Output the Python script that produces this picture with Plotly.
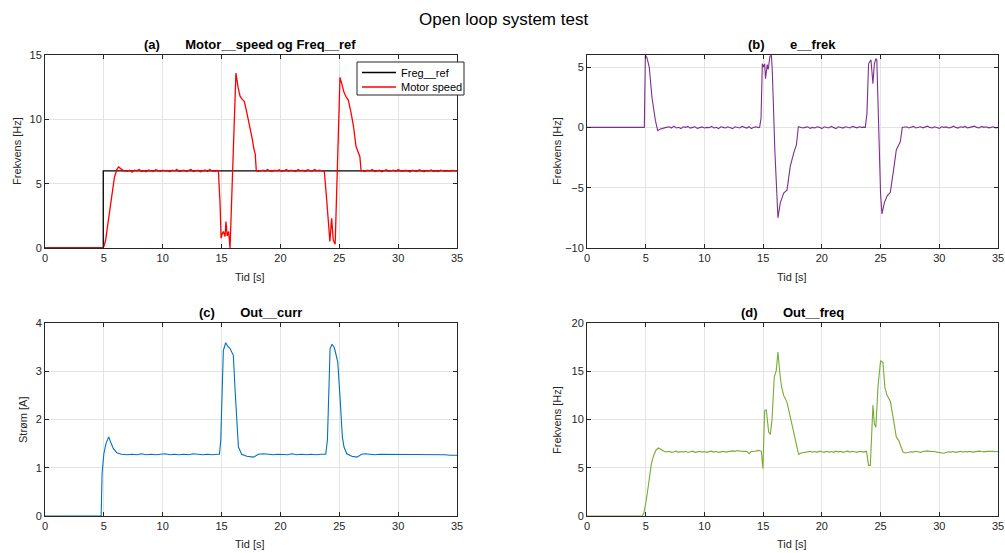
import plotly.graph_objects as go

# ---------------- data ----------------
# (a) Freq ref
t_ref = [0, 4.95, 4.95, 35]
freq_ref = [0, 0, 6, 6]

# (a) Motor speed
t_speed = [0, 4.85, 5.0, 5.15, 5.3, 5.5, 5.7, 5.9, 6.1, 6.25, 6.45, 6.7,
           7.0, 7.2, 7.4, 7.6, 7.8, 8.0, 8.2, 8.4, 8.6, 8.8, 9.0, 9.2, 9.4, 9.6, 9.8,
           10.0, 10.2, 10.4, 10.6, 10.8, 11.0, 11.2, 11.4, 11.6, 11.8, 12.0, 12.2, 12.4,
           12.6, 12.8, 13.0, 13.2, 13.4, 13.6, 13.8, 14.0, 14.2, 14.4, 14.6,
           14.73, 14.87, 14.96, 15.05, 15.15, 15.3, 15.37, 15.48, 15.6, 15.72, 15.85,
           16.05, 16.22, 16.4, 16.57, 16.75, 16.93, 17.15, 17.4, 17.6, 17.76, 17.86, 17.95,
           18.1, 18.3, 18.5, 18.7, 18.9, 19.1, 19.3, 19.5, 19.7, 19.9, 20.1, 20.3, 20.5,
           20.7, 20.9, 21.1, 21.3, 21.5, 21.7, 21.9, 22.1, 22.3, 22.5, 22.7, 22.9, 23.1,
           23.3, 23.5,
           23.73, 23.93, 24.07, 24.2, 24.35, 24.49, 24.65, 24.8, 24.93, 25.06, 25.2, 25.4,
           25.6, 25.77, 26.0, 26.2, 26.42, 26.6, 26.75, 26.85,
           27.0, 27.2, 27.4, 27.6, 27.8, 28.0, 28.2, 28.4, 28.6, 28.8, 29.0, 29.2, 29.4,
           29.6, 29.8, 30.0, 30.2, 30.4, 30.6, 30.8, 31.0, 31.2, 31.4, 31.6, 31.8, 32.0,
           32.2, 32.4, 32.6, 32.8, 33.0, 33.2, 33.4, 33.6, 33.8, 34.0, 34.2, 34.4, 34.6,
           34.8, 35.0]
motor_speed = [0, 0, 0.1, 0.6, 1.6, 3.0, 4.4, 5.5, 6.1, 6.3, 6.15, 6.0,
               5.95, 6.05, 5.9, 6.05, 6.0, 6.1, 5.95, 6.0, 5.92, 6.06, 6.0, 5.95, 6.08, 6.0, 5.96,
               6.05, 6.0, 6.02, 5.92, 6.05, 6.0, 6.1, 5.95, 6.0, 6.05, 5.95, 6.0, 6.1,
               5.95, 6.0, 6.05, 5.92, 6.0, 6.06, 5.95, 6.1, 6.0, 5.95, 6.02,
               6.0, 3.5, 0.76, 1.1, 1.28, 0.9, 2.06, 0.94, 1.28, 0.0, 3.8,
               9.0, 13.6, 12.5, 11.8, 11.55, 11.4, 10.5, 9.5, 8.5, 7.65, 7.3, 6.0,
               5.95, 6.0, 6.05, 5.97, 6.1, 6.0, 5.95, 6.05, 6.0, 6.08, 5.95, 6.0, 6.1,
               5.96, 6.05, 6.0, 5.95, 6.1, 6.0, 6.05, 5.94, 6.08, 6.0, 5.96, 6.1, 6.0,
               6.05, 6.0,
               5.95, 3.75, 1.67, 0.5, 2.3, 0.6, 0.3, 5.0, 9.5, 13.26, 12.8, 12.1,
               11.7, 11.5, 10.5, 9.5, 7.9, 7.4, 7.1, 6.0,
               6.0, 5.95, 6.05, 6.0, 6.1, 5.95, 6.0, 6.05, 5.92, 6.0, 6.08, 5.96, 6.0,
               6.05, 5.95, 6.1, 6.0, 5.96, 6.04, 6.0, 5.9, 6.05, 6.0, 5.95, 6.08, 6.0,
               5.92, 6.02, 6.0, 6.06, 5.95, 6.0, 5.94, 6.05, 6.0, 5.95, 6.02, 5.98, 6.04,
               6.0, 6.0]

# (b) e__frek
t_err = [0, 4.88, 4.97, 5.1, 5.3, 5.53, 5.82, 6.02, 6.25, 6.5, 6.75,
         7.0, 7.2, 7.4, 7.6, 7.8, 8.0, 8.2, 8.4, 8.6, 8.8, 9.0, 9.2, 9.4, 9.6, 9.8,
         10.0, 10.2, 10.4, 10.6, 10.8, 11.0, 11.2, 11.4, 11.6, 11.8, 12.0, 12.2, 12.4,
         12.6, 12.8, 13.0, 13.2, 13.4, 13.6, 13.8, 14.0, 14.2, 14.4, 14.6,
         14.7, 14.82, 14.93, 15.04, 15.13, 15.2, 15.35, 15.43, 15.5, 15.58, 15.7, 15.78,
         16.0, 16.26, 16.46, 16.75, 17.03, 17.31, 17.6, 17.83, 18.0,
         18.2, 18.4, 18.6, 18.8, 19.0, 19.2, 19.4, 19.6, 19.8, 20.0, 20.2, 20.4, 20.6,
         20.8, 21.0, 21.2, 21.4, 21.6, 21.8, 22.0, 22.2, 22.4, 22.6, 22.8, 23.0, 23.2,
         23.4, 23.6,
         23.7, 23.84, 23.98, 24.18, 24.35, 24.47, 24.6, 24.68, 25.0, 25.12, 25.32, 25.55,
         25.83, 26.11, 26.34, 26.54, 26.68, 26.85,
         27.0, 27.2, 27.4, 27.6, 27.8, 28.0, 28.2, 28.4, 28.6, 28.8, 29.0, 29.2, 29.4,
         29.6, 29.8, 30.0, 30.2, 30.4, 30.6, 30.8, 31.0, 31.2, 31.4, 31.6, 31.8, 32.0,
         32.2, 32.4, 32.6, 32.8, 33.0, 33.2, 33.4, 33.6, 33.8, 34.0, 34.2, 34.4, 34.6,
         34.8, 35.0]
e_frek = [0, 0, 5.98, 5.8, 5.0, 2.5, 0.6, -0.27, -0.14, -0.05, 0.0,
          0.05, -0.05, 0.1, -0.05, 0.0, -0.1, 0.05, 0.0, 0.08, -0.06, 0.0, 0.05, -0.08, 0.0, 0.04,
          -0.05, 0.0, -0.02, 0.08, -0.05, 0.0, -0.1, 0.05, 0.0, -0.05, 0.05, 0.0, -0.1,
          0.05, 0.0, -0.05, 0.08, 0.0, -0.06, 0.05, -0.1, 0.0, 0.05, -0.02,
          0.0, 0.74, 5.27, 5.0, 5.27, 4.04, 5.2, 4.8, 5.27, 5.9, 5.98, 4.7,
          -2.0, -7.5, -6.26, -5.44, -5.2, -3.24, -2.14, -1.46, 0.05,
          0.02, -0.05, 0.0, 0.05, -0.08, 0.0, -0.05, 0.05, 0.0, -0.1, 0.05, 0.0, -0.05,
          0.08, 0.0, -0.1, 0.05, 0.0, -0.06, 0.05, 0.0, -0.05, 0.08, 0.0, -0.04, 0.05,
          0.0, 0.02,
          0.0, 1.15, 5.27, 5.6, 3.63, 5.27, 5.7, 5.6, -5.5, -7.17, -6.26, -5.7,
          -5.38, -3.5, -1.87, -1.46, -1.2, 0.0,
          0.0, 0.05, -0.05, 0.0, 0.08, -0.05, 0.0, 0.05, -0.04, 0.0, 0.1, 0.0, -0.05,
          0.05, 0.0, -0.08, 0.05, 0.0, 0.04, -0.05, 0.0, 0.1, 0.0, -0.06, 0.05, 0.0,
          0.08, -0.04, 0.0, 0.05, 0.1, 0.0, -0.05, 0.08, 0.0, 0.05, -0.04, 0.0, 0.05,
          -0.05, 0.0]

# (c) Out__curr
t_curr = [0, 4.77, 4.85, 5.0, 5.18, 5.41, 5.58, 5.8, 6.1, 6.5,
          7.0, 7.4, 7.8, 8.2, 8.6, 9.0, 9.4, 9.8, 10.2, 10.6, 11.0, 11.4, 11.8, 12.2,
          12.6, 13.0, 13.4, 13.8, 14.2, 14.6,
          14.82, 14.93, 15.07, 15.15, 15.35, 15.52, 15.72, 15.89, 16.0, 16.15, 16.29,
          16.43, 16.71, 17.14, 17.7, 18.13, 18.55,
          19.0, 19.4, 19.8, 20.2, 20.6, 21.0, 21.4, 21.8, 22.2, 22.6, 23.0, 23.4,
          23.85, 23.99, 24.07, 24.22, 24.38, 24.56, 24.64, 24.87, 25.06, 25.26, 25.4,
          25.64, 26.06, 26.5, 26.9, 27.2,
          27.6, 28.0, 28.4, 28.8, 29.2, 29.6, 30.0, 30.4, 30.8, 31.2, 31.6, 32.0, 32.4,
          32.8, 33.2, 33.6, 34.0, 34.4, 34.8, 35.0]
out_curr = [0, 0, 0.88, 1.29, 1.5, 1.64, 1.53, 1.4, 1.31, 1.28,
            1.27, 1.28, 1.27, 1.29, 1.27, 1.28, 1.27, 1.28, 1.29, 1.27, 1.28, 1.27, 1.28, 1.27,
            1.29, 1.28, 1.27, 1.28, 1.27, 1.28,
            1.28, 1.57, 2.6, 3.43, 3.59, 3.52, 3.47, 3.4, 3.33, 2.6, 1.91,
            1.43, 1.28, 1.24, 1.22, 1.28, 1.29,
            1.28, 1.27, 1.28, 1.28, 1.27, 1.29, 1.27, 1.28, 1.27, 1.28, 1.27, 1.28,
            1.28, 1.57, 2.47, 3.47, 3.56, 3.5, 3.43, 3.19, 2.47, 1.64, 1.43,
            1.29, 1.24, 1.22, 1.28, 1.29,
            1.28, 1.27, 1.28, 1.28, 1.27, 1.28, 1.27, 1.28, 1.27, 1.27, 1.28, 1.27, 1.28,
            1.27, 1.27, 1.28, 1.27, 1.26, 1.27, 1.26]

# (d) Out__freq
t_ofreq = [0, 4.68, 4.83, 5.02, 5.25, 5.48, 5.68, 5.9, 6.1, 6.39, 6.67,
           7.0, 7.2, 7.4, 7.6, 7.8, 8.0, 8.2, 8.4, 8.6, 8.8, 9.0, 9.2, 9.4, 9.6, 9.8,
           10.0, 10.2, 10.4, 10.6, 10.8, 11.0, 11.2, 11.4, 11.6, 11.8, 12.0, 12.2, 12.4,
           12.6, 12.8, 13.0, 13.2, 13.4, 13.6, 13.8, 14.0, 14.2, 14.4, 14.6,
           14.85, 14.98, 15.13, 15.27, 15.47, 15.61, 15.75, 15.95, 16.12, 16.26, 16.4,
           16.55, 16.75, 17.03, 17.31, 17.6, 17.83, 18.02, 18.22, 18.5,
           18.8, 19.0, 19.2, 19.4, 19.6, 19.8, 20.0, 20.2, 20.4, 20.6, 20.8, 21.0, 21.2,
           21.4, 21.6, 21.8, 22.0, 22.2, 22.4, 22.6, 22.8, 23.0, 23.2, 23.4, 23.6, 23.8,
           23.98, 24.13, 24.27, 24.35, 24.47, 24.6, 24.78, 25.0, 25.2, 25.37, 25.55, 25.83,
           26.11, 26.34, 26.54, 26.74, 26.91, 27.1,
           27.4, 27.6, 27.8, 28.0, 28.2, 28.4, 28.6, 28.8, 29.0, 29.2, 29.4, 29.6, 29.8,
           30.0, 30.2, 30.4, 30.6, 30.8, 31.0, 31.2, 31.4, 31.6, 31.8, 32.0, 32.2, 32.4,
           32.6, 32.8, 33.0, 33.2, 33.4, 33.6, 33.8, 34.0, 34.2, 34.4, 34.6, 34.8, 35.0]
out_freq = [0, 0, 0.24, 1.45, 3.35, 5.4, 6.29, 6.87, 7.05, 6.8, 6.63,
            6.7, 6.6, 6.65, 6.72, 6.6, 6.68, 6.62, 6.7, 6.58, 6.66, 6.72, 6.6, 6.65, 6.7, 6.62,
            6.68, 6.6, 6.66, 6.72, 6.62, 6.68, 6.6, 6.65, 6.7, 6.62, 6.66, 6.7, 6.75,
            6.7, 6.78, 6.72, 6.7, 6.75, 6.7, 6.46, 6.7, 6.68, 6.75, 6.8,
            6.7, 4.9, 10.95, 11.0, 8.7, 8.46, 9.9, 14.4, 15.1, 17.0, 15.1,
            13.5, 12.5, 11.8, 10.26, 8.7, 7.67, 6.39, 6.53, 6.6,
            6.65, 6.7, 6.62, 6.68, 6.6, 6.72, 6.65, 6.6, 6.7, 6.62, 6.68, 6.6, 6.72,
            6.65, 6.7, 6.6, 6.66, 6.72, 6.62, 6.7, 6.65, 6.6, 6.7, 6.66, 6.62, 6.7,
            5.25, 5.25, 9.2, 11.5, 9.57, 9.2, 13.4, 16.1, 15.9, 13.3, 12.5, 11.9,
            9.9, 8.19, 7.84, 7.15, 6.63, 6.53,
            6.6, 6.66, 6.62, 6.7, 6.65, 6.6, 6.68, 6.72, 6.75, 6.7, 6.72, 6.68, 6.62,
            6.6, 6.55, 6.5, 6.6, 6.65, 6.62, 6.68, 6.6, 6.66, 6.7, 6.62, 6.68, 6.65,
            6.7, 6.62, 6.66, 6.7, 6.72, 6.68, 6.65, 6.7, 6.72, 6.68, 6.7, 6.66, 6.68]

legend_names = ["Freg__ref", "Motor speed"]

for a, b in [(t_ref, freq_ref), (t_speed, motor_speed), (t_err, e_frek),
             (t_curr, out_curr), (t_ofreq, out_freq)]:
    assert len(a) == len(b), (len(a), len(b))

# ---------------- layout geometry (screen pixels) ----------------
# body margin is removed by a small post script, so figure pixels = screen pixels
FW, FH = 1005, 553

LX = (45, 457)
RX = (587, 998)
TY = (55, 248)
BY = (323, 516)


def px(s):
    return s / FW


def py(s):
    return 1 - s / FH


def xd(p):
    return [px(p[0]), px(p[1])]


def yd(p):
    return [py(p[1]), py(p[0])]


AX = "#262626"
GRID = "#e3e3e3"
FONT = "Liberation Sans, Arial, Helvetica, sans-serif"
RED = "#ff0000"

fig = go.Figure()
fig.add_trace(go.Scatter(x=t_ref, y=freq_ref, mode="lines", name=legend_names[0],
                         line=dict(color="#000000", width=1.3), xaxis="x", yaxis="y"))
fig.add_trace(go.Scatter(x=t_speed, y=motor_speed, mode="lines", name=legend_names[1],
                         line=dict(color=RED, width=1.3), xaxis="x", yaxis="y"))
fig.add_trace(go.Scatter(x=t_err, y=e_frek, mode="lines", name="e__frek",
                         line=dict(color="#7e2f8e", width=1.1), xaxis="x2", yaxis="y2"))
fig.add_trace(go.Scatter(x=t_curr, y=out_curr, mode="lines", name="Out__curr",
                         line=dict(color="#0072bd", width=1.1), xaxis="x3", yaxis="y3"))
fig.add_trace(go.Scatter(x=t_ofreq, y=out_freq, mode="lines", name="Out__freq",
                         line=dict(color="#77ac30", width=1.1), xaxis="x4", yaxis="y4"))


def axis(domain, rng, dtick, anchor):
    return dict(domain=domain, range=rng, dtick=dtick, tick0=0, anchor=anchor,
                automargin=False,
                showline=True, linecolor=AX, linewidth=1, mirror="ticks",
                ticks="inside", ticklen=4, tickcolor=AX, tickwidth=1,
                showgrid=True, gridcolor=GRID, gridwidth=1, zeroline=False,
                tickfont=dict(family=FONT, size=11, color=AX), fixedrange=True)


fig.update_layout(
    template="none",
    width=FW, height=FH, margin=dict(l=0, r=0, t=0, b=0, pad=0), autosize=False,
    paper_bgcolor="white", plot_bgcolor="white",
    xaxis=axis(xd(LX), [0, 35], 5, "y"),
    yaxis=axis(yd(TY), [0, 15], 5, "x"),
    xaxis2=axis(xd(RX), [0, 35], 5, "y2"),
    yaxis2=axis(yd(TY), [-10, 6], 5, "x2"),
    xaxis3=axis(xd(LX), [0, 35], 5, "y3"),
    yaxis3=axis(yd(BY), [0, 4], 1, "x3"),
    xaxis4=axis(xd(RX), [0, 35], 5, "y4"),
    yaxis4=axis(yd(BY), [0, 20], 5, "x4"),
    showlegend=False,
    hovermode=False,
)

NB = "\u00a0"
ann = []


def text(x, y, s, size=11, bold=False, angle=0, color=AX, anchor="center"):
    ann.append(dict(x=px(x), y=py(y), xref="paper", yref="paper", text=s,
                    showarrow=False, xanchor=anchor, yanchor="middle",
                    textangle=angle,
                    font=dict(family=FONT, size=size, color=color,
                              weight="bold" if bold else "normal")))


text(503, 19, "Open loop system test", size=17, color="#000000")
text(250, 45, "(a)" + NB * 7 + "Motor__speed og Freq__ref", size=13, bold=True, color="#000000")
text(792, 44, "(b)" + NB * 7 + "e__frek", size=13, bold=True, color="#000000")
text(250, 312, "(c)" + NB * 7 + "Out__curr", size=13, bold=True, color="#000000")
text(792, 312, "(d)" + NB * 7 + "Out__freq", size=13, bold=True, color="#000000")

for cx in (250, 792):
    text(cx, 277, "Tid [s]")
    text(cx, 544, "Tid [s]")
text(17, 151, "Frekvens [Hz]", angle=-90)
text(557, 151, "Frekvens [Hz]", angle=-90)
text(23, 420, "Strøm [A]", angle=-90)
text(557, 420, "Frekvens [Hz]", angle=-90)

# legend box for panel (a), MATLAB style
shapes = [
    dict(type="rect", xref="paper", yref="paper", x0=px(357), x1=px(464),
         y0=py(95), y1=py(62), line=dict(color=AX, width=1), fillcolor="white", layer="above"),
    dict(type="line", xref="paper", yref="paper", x0=px(362), x1=px(396),
         y0=py(72.5), y1=py(72.5), line=dict(color="#000000", width=1.3), layer="above"),
    dict(type="line", xref="paper", yref="paper", x0=px(362), x1=px(396),
         y0=py(87), y1=py(87), line=dict(color=RED, width=1.3), layer="above"),
]
text(399, 72.5, legend_names[0], color="#000000", anchor="left")
text(399, 87, legend_names[1], color="#000000", anchor="left")

fig.update_layout(annotations=ann, shapes=shapes)

fig.write_html(
    "out.html",
    config={"displayModeBar": False, "staticPlot": True},
    post_script="document.body.style.margin='0px';"
                "document.body.style.overflow='hidden';",
)
